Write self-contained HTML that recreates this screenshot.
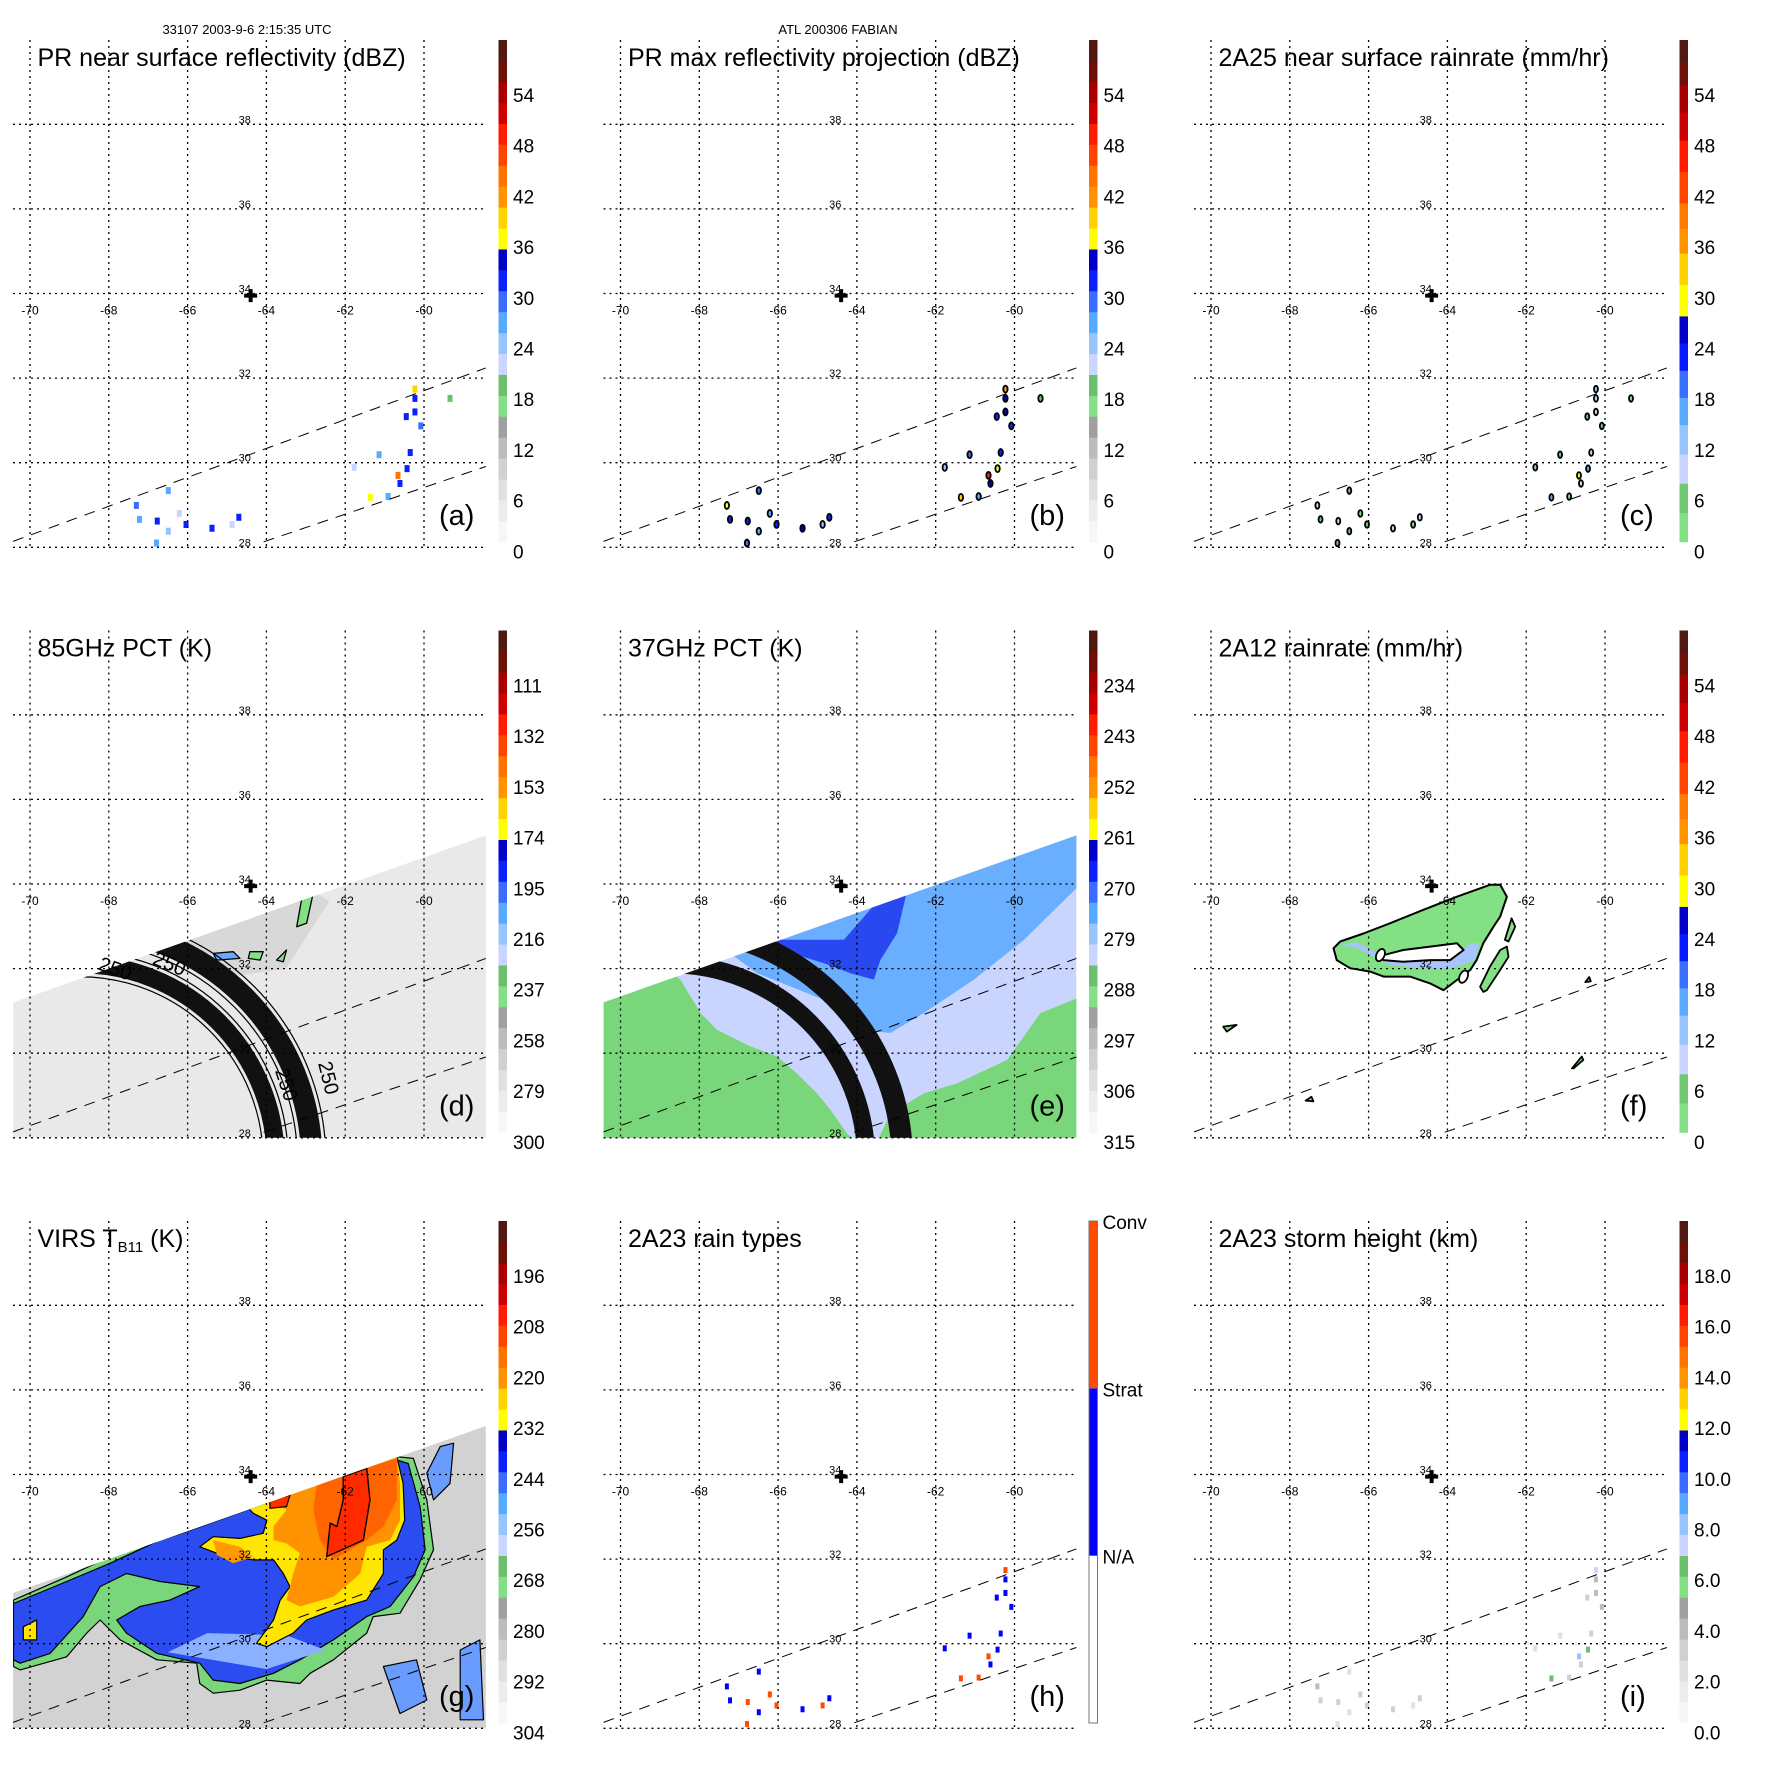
<!DOCTYPE html>
<html><head><meta charset="utf-8"><title>TRMM FABIAN overpass</title>
<style>
html,body{margin:0;padding:0;background:#fff;}
svg{display:block;font-family:"Liberation Sans",Arial,sans-serif;}
</style></head>
<body>
<svg id="fig" width="1771" height="1771" viewBox="0 0 1771 1771" xmlns="http://www.w3.org/2000/svg">
<rect x="0" y="0" width="1771" height="1771" fill="#fff"/>
<text x="247" y="34" font-size="13" text-anchor="middle">33107 2003-9-6 2:15:35 UTC</text>
<text x="838" y="34" font-size="13" text-anchor="middle">ATL 200306 FABIAN</text>
</svg>
<script>
// ---------- data ----------
const gridLons = [-70,-68,-66,-64,-62,-60];
const gridLats = [38,36,34,32,30,28];
const lonLabels = ["-70","-68","-66","-64","-62","-60"];
const latLabels = ["38","36","34","32","30","28"];

// PR pixel clusters (lon/lat)
const pixLon = [-60.23,-60.23,-60.23,-60.45,-60.08,-59.34,-60.35,-60.43,-60.66,-60.61,-61.36,-61.14,-60.91,-61.77,-67.30,-67.22,-66.77,-66.49,-66.49,-66.21,-66.04,-65.38,-64.87,-64.70,-66.79];
const pixLat = [31.74,31.52,31.20,31.09,30.87,31.52,30.24,29.86,29.70,29.51,29.18,30.19,29.20,29.89,28.99,28.66,28.62,29.34,28.38,28.80,28.54,28.45,28.54,28.71,28.10];
const reflNear = [38,30,32,31,28,18,30,32,44,30,36,26,25,22,28,27,30,26,24,22,30,30,22,30,26];
const reflMax  = [40,33,34,32,30,18,32,36,48,34,38,28,27,24,36,30,32,28,26,25,32,33,24,32,28];
const rain2A25 = [12,8,10,6,4,2,8,14,30,10,16,4,3,2,8,6,8,5,4,3,6,8,3,8,5];
const rainType = [2,1,1,1,1,0,1,1,2,1,2,1,2,1,1,1,2,1,1,2,2,1,2,1,2];
const stormHeight = [7,4,4,3,4,0,3,6,8,3,6,2,3,2,4,3,3,2,2,3,3,3,2,3,2];

// swath geometry (lon/lat)
const swathPoly = [[-70.43,31.2],[-58.43,35.15],[-58.43,28.0],[-70.43,28.0]];
const swathEdge1 = [[-70.43,28.14],[-58.43,32.24]];
const swathEdge2 = [[-64.07,28.13],[-58.43,29.91]];
const stormCenter = [-64.4,33.95];
const ringCenter = [-68.74,27.47];
const ringLabelsText = ["250","250","250","250"];

// 85 GHz features
const d_green = [
 [[-63.06,34.09],[-62.72,34.21],[-62.85,33.62],[-62.98,33.07],[-63.23,32.99],[-63.11,33.62]],
 [[-65.35,32.36],[-64.84,32.40],[-64.67,32.24],[-65.26,32.20]],
 [[-64.42,32.40],[-64.08,32.40],[-64.16,32.20],[-64.46,32.24]],
 [[-63.74,32.20],[-63.49,32.44],[-63.57,32.16]]
];
const d_dark = [[-66.5,32.6],[-63.2,34.0],[-62.4,33.6],[-63.5,32.0],[-65,31.8]];

// 37 GHz features
const e_greenLL = [[-68.73,31.93],[-68.48,31.74],[-68.22,31.34],[-67.97,30.95],[-67.55,30.55],[-66.70,30.16],[-66.02,29.92],[-65.52,29.52],[-65.01,29.05],[-64.67,28.66],[-64.25,28.10],[-63.99,27.9],[-70.6,27.9],[-70.6,31.26]];
const e_greenBR = [[-63.49,27.9],[-63.15,28.58],[-62.30,29.05],[-61.455,29.29],[-60.19,29.84],[-59.34,30.95],[-58.3,31.34],[-58.3,27.9]];
const e_blue = [[-66.70,32.60],[-58.3,35.3],[-58.3,34.02],[-59.76,32.68],[-61.03,31.74],[-62.30,30.95],[-63.15,30.48],[-63.99,30.55],[-64.84,31.26],[-65.69,31.58],[-66.53,31.89],[-67.12,32.29]];
const e_dark = [[-66.53,32.68],[-64.33,32.68],[-63.15,33.94],[-62.72,33.86],[-62.98,32.84],[-63.40,32.21],[-63.57,31.74],[-64.16,31.89],[-64.84,32.13],[-65.69,32.37]];

// 2A12 features
const f_main = [[-62.66,33.98],[-62.49,33.70],[-62.66,33.23],[-62.83,32.99],[-63.09,32.60],[-63.26,32.20],[-63.42,31.97],[-63.76,31.73],[-64.10,31.49],[-64.44,31.65],[-64.95,31.81],[-65.62,31.81],[-65.96,31.93],[-66.47,32.01],[-66.81,32.20],[-66.89,32.48],[-66.72,32.64],[-66.13,32.83],[-65.46,33.07],[-64.61,33.39],[-63.76,33.70],[-62.92,33.98]];
const f_hole = [[-65.79,32.28],[-65.12,32.44],[-63.76,32.60],[-63.59,32.44],[-63.93,32.20],[-64.44,32.20],[-65.12,32.16],[-65.62,32.20]];
const f_blue = [[-66.72,32.56],[-66.3,32.5],[-65.5,32.1],[-64.6,32.0],[-63.9,32.0],[-63.3,32.2],[-63.2,32.6],[-63.4,32.6],[-63.9,32.25],[-64.6,32.15],[-65.5,32.25],[-66.3,32.62]];
const f_small = [
 [[-63.09,31.45],[-63.17,31.57],[-62.92,32.05],[-62.66,32.44],[-62.49,32.52],[-62.45,32.28],[-62.66,31.97],[-63.0,31.49]],
 [[-62.54,32.68],[-62.37,33.19],[-62.28,32.99],[-62.45,32.64]],
 [[-69.69,30.63],[-69.35,30.67],[-69.60,30.51]],
 [[-67.60,28.88],[-67.45,28.97],[-67.40,28.86]],
 [[-60.84,29.64],[-60.59,29.92],[-60.55,29.84],[-60.80,29.64]],
 [[-60.50,31.68],[-60.40,31.80],[-60.36,31.70]]
];
const f_ovals = [[-65.70,32.32],[-63.59,31.81]];

// VIRS features
const g_green = [[-70.42,31.03],[-69.07,31.58],[-67.97,32.06],[-66.70,32.53],[-66.02,32.73],[-64.50,33.24],[-60.69,34.42],[-60.27,34.38],[-59.93,33.40],[-59.76,32.22],[-60.10,31.51],[-60.61,30.72],[-61.29,30.64],[-61.455,30.25],[-62.30,29.62],[-62.89,29.30],[-63.15,29.06],[-63.99,29.14],[-64.67,28.90],[-65.35,28.83],[-65.69,29.06],[-65.77,29.54],[-66.78,29.62],[-67.71,30.09],[-68.22,30.56],[-68.56,30.25],[-69.07,29.69],[-70.25,29.38],[-70.42,29.46]];
const g_blue = [[-70.42,30.95],[-69.07,31.47],[-67.97,31.90],[-66.70,32.45],[-66.02,32.65],[-64.50,33.16],[-60.69,34.34],[-60.40,34.26],[-60.10,33.24],[-59.97,32.22],[-60.27,31.58],[-60.86,30.88],[-61.455,30.64],[-62.30,30.09],[-63.15,29.62],[-63.82,29.30],[-64.67,29.06],[-65.35,29.14],[-65.69,29.54],[-66.78,29.77],[-67.55,30.25],[-67.80,30.56],[-67.21,30.88],[-66.45,31.03],[-65.69,31.35],[-66.70,31.47],[-67.55,31.66],[-68.22,31.35],[-68.65,30.64],[-69.49,29.77],[-70.25,29.54],[-70.42,29.62]];
const g_lightBlue = [[-66.5,29.8],[-64,29.4],[-62.5,29.85],[-63.5,30.2],[-65.5,30.25]];
const g_yellow = [[-64.50,33.24],[-60.69,34.42],[-60.53,33.79],[-60.49,32.92],[-60.69,32.45],[-61.03,32.22],[-61.03,31.66],[-61.455,31.03],[-62.30,30.80],[-62.98,30.56],[-63.32,30.25],[-63.99,29.93],[-64.25,30.01],[-63.82,30.56],[-63.65,31.03],[-63.40,31.35],[-63.57,31.66],[-63.82,31.98],[-64.33,31.98],[-64.84,32.06],[-65.26,32.14],[-65.69,32.29],[-65.35,32.53],[-64.67,32.49],[-64.08,32.61],[-63.99,32.92],[-64.33,33.08]];
const g_orange = [[-63.99,33.48],[-60.69,34.42],[-60.61,33.79],[-60.61,32.92],[-60.86,32.45],[-61.455,32.29],[-61.62,31.66],[-62.30,31.11],[-63.15,30.88],[-63.49,31.03],[-63.32,31.66],[-63.15,32.14],[-63.49,32.37],[-63.82,32.45],[-63.82,32.77],[-63.49,33.16]];
const g_orangeArm = [[-65.35,32.45],[-64.67,32.29],[-64.33,32.06],[-64.84,31.90],[-65.26,32.10]];
const g_redOrange = [[-62.72,33.79],[-60.69,34.38],[-60.69,33.40],[-61.03,32.77],[-61.455,32.45],[-62.30,31.98],[-62.64,32.45],[-62.81,33.16]];
const g_red = [[-62.05,33.95],[-61.455,34.15],[-61.37,33.40],[-61.54,32.45],[-62.47,32.06],[-62.38,32.85],[-62.21,32.77],[-62.05,33.40]];
const g_redSmall = [[-63.91,33.40],[-63.40,33.51],[-63.49,33.24],[-63.91,33.20]];
const g_yellowSmall = [[-70.17,30.40],[-69.83,30.56],[-69.83,30.09],[-70.17,30.09]];
const g_streaks = [
 [[-59.59,34.66],[-59.25,34.74],[-59.34,33.79],[-59.76,33.40],[-59.93,34.03]],
 [[-61.03,29.46],[-60.19,29.62],[-59.93,28.67],[-60.61,28.35]],
 [[-59.08,29.85],[-58.58,30.09],[-58.49,28.2],[-59.08,28.2]]
];

// colour scales
const segStd = [[0,15,['#f7f7f7','#ececec','#e0e0e0','#d0d0d0','#bcbcbc','#a0a0a0']],[15,20,['#84e084','#6cc06c']],[20,25,['#cad6ff','#96c4ff']],[25,30,['#56aaff','#3a6cff']],[30,35,['#0a20ff','#0000c8']],[35,40,['#ffff00','#ffd200']],[40,45,['#ff9400','#ff7400']],[45,50,['#ff4400','#ff1c00']],[50,55,['#cc0000','#a80000']],[55,60,['#6e1008','#501a12']]];
const segRain = [[0,7,['#84e084','#70c870']],[7,14,['#cad6ff','#96c4ff']],[14,20.5,['#5aaaff','#3a70ff']],[20.5,27,['#0818ff','#0000c8']],[27,34.5,['#ffff00','#ffd200']],[34.5,40.5,['#ff9400','#ff7a00']],[40.5,48,['#ff4400','#ff1c00']],[48,54.7,['#cc0000','#a80000']],[54.7,60,['#6e1008','#501a12']]];
const ticksDBZ = ["54","48","42","36","30","24","18","12","6","0"];
const ticks85 = ["111","132","153","174","195","216","237","258","279","300"];
const ticks37 = ["234","243","252","261","270","279","288","297","306","315"];
const ticksVIRS = ["196","208","220","232","244","256","268","280","292","304"];
const ticksHeight = ["18.0","16.0","14.0","12.0","10.0","8.0","6.0","4.0","2.0","0.0"];
const typeLabels = ["Conv","Strat","N/A"];

// ---------- drawing ----------
const NS = 'http://www.w3.org/2000/svg';
const svg = document.getElementById('fig');
const defs = document.createElementNS(NS,'defs');
svg.appendChild(defs);
function mk(tag, attrs, parent){
  const e = document.createElementNS(NS, tag);
  for (const k in attrs) e.setAttribute(k, attrs[k]);
  (parent||svg).appendChild(e);
  return e;
}
const cols=[0,590.5,1181], rows=[0,590.5,1181];
function X(o,lon){return o+30+(lon+70)*39.4;}
function Y(o,lat){return o+293.5-(lat-34)*42.3;}
function pts(ox,oy,arr){return arr.map(p=>X(ox,p[0]).toFixed(1)+','+Y(oy,p[1]).toFixed(1)).join(' ');}
function colorAt(segs,v){
  for(const s of segs){ if(v>=s[0] && v<s[1]){ const n=s[2].length; const i=Math.min(n-1,Math.floor((v-s[0])/(s[1]-s[0])*n)); return s[2][i]; } }
  return segs[segs.length-1][2][segs[segs.length-1][2].length-1];
}

function panel(idx, key, title, letter, ticks, segs){
  const ox=cols[idx%3], oy=rows[Math.floor(idx/3)];
  const g = mk('g',{});
  
  
  const clipId='clip-'+key;
  const cp = mk('clipPath',{id:clipId},defs);
  mk('polygon',{points:pts(ox,oy,swathPoly)},cp);
  const field = mk('g',{'clip-path':'url(#'+clipId+')'},g);
  
  
  return {ox,oy,g,field,title,letter,ticks,segs,key};
}

function poly(parent, ox, oy, arr, fill, stroke, sw, name){
  const p = mk('polygon',{points:pts(ox,oy,arr),fill:fill,stroke:stroke||'none','stroke-width':sw||0,'stroke-linejoin':'round'},parent);
  
  
  return p;
}

function rings(P, withLines){
  const cx=X(P.ox,ringCenter[0]), cy=Y(P.oy,ringCenter[1]);
  const bands=[[196,18],[232,21.5]];
  bands.forEach((b,i)=>{
    const c = mk('circle',{cx:cx,cy:cy,r:b[0],fill:'none',stroke:'#111','stroke-width':b[1]},P.field);
    
    
    if(withLines){
      [b[0]-b[1]/2-3.5, b[0]+b[1]/2+3.5].forEach(r=>{
        const l = mk('circle',{cx:cx,cy:cy,r:r,fill:'none',stroke:'#000','stroke-width':1.2},P.field);
        
        
      });
    }
  });
}

function frame(P){
  const {ox,oy,g}=P;
  gridLons.forEach(lon=>{
    const l = mk('line',{x1:X(ox,lon),x2:X(ox,lon),y1:oy+40,y2:oy+548,stroke:'#000','stroke-width':1.3,'stroke-dasharray':'2 4'},g);
    
    
  });
  gridLats.forEach(lat=>{
    const l = mk('line',{x1:ox+13,x2:ox+487,y1:Y(oy,lat),y2:Y(oy,lat),stroke:'#000','stroke-width':1.3,'stroke-dasharray':'2 4'},g);
    
    
  });
  [swathEdge1,swathEdge2].forEach(e=>{
    const l = mk('line',{x1:X(ox,e[0][0]),y1:Y(oy,e[0][1]),x2:X(ox,e[1][0]),y2:Y(oy,e[1][1]),stroke:'#000','stroke-width':1,'stroke-dasharray':'11 8'},g);
    
    
  });
  gridLons.forEach((lon,i)=>{
    const t = mk('text',{x:X(ox,lon),y:Y(oy,34)+21,'font-size':12,'text-anchor':'middle'},g);
    t.textContent = lonLabels[i];
    
    
  });
  gridLats.forEach((lat,i)=>{
    const t = mk('text',{x:X(ox,-64.55),y:Y(oy,lat)-1,'font-size':11,'text-anchor':'middle'},g);
    t.textContent = latLabels[i];
    
    
  });
  const sx=X(ox,stormCenter[0]), sy=Y(oy,stormCenter[1]);
  const m = mk('path',{d:`M${sx-6.5},${sy} H${sx+6.5} M${sx},${sy-6.5} V${sy+6.5}`,stroke:'#000','stroke-width':4},g);
  
  
  const t = mk('text',{x:ox+37.5,y:oy+66,'font-size':25},g);
  
  
  if(P.key==='g'){
    t.appendChild(document.createTextNode('VIRS T'));
    const s=mk('tspan',{'font-size':15,dy:5},t); s.textContent='B11';
    const s2=mk('tspan',{dy:-5},t); s2.textContent=' (K)';
  } else t.textContent = P.title;
  const lt = mk('text',{x:ox+439,y:oy+525,'font-size':29},g);
  lt.textContent = '('+P.letter+')';
  
  
  const cb = mk('g',{},g);
  
  
  const bx=ox+498.5, bw=8.5, by0=oy+542, bh=502;
  if(P.key==='h'){
    const segs=[[0,1,'#ffffff'],[1,2,'#0000ff'],[2,3,'#ff4a00']];
    segs.forEach(s=>{
      const r=mk('rect',{x:bx,y:by0-s[1]/3*bh,width:bw,height:(s[1]-s[0])/3*bh,fill:s[2]},cb);
      
      
    });
    const o=mk('rect',{x:bx,y:by0-bh,width:bw,height:bh,fill:'none',stroke:'#777','stroke-width':1},cb);
    
    
    typeLabels.forEach((lab,i)=>{
      const ty = by0-bh + i*bh/3 + 8;
      const tx=mk('text',{x:ox+512,y:ty,'font-size':19},cb);
      tx.textContent=lab;
      
      
    });
  } else {
    P.segs.forEach(s=>{
      const n=s[2].length;
      s[2].forEach((c,j)=>{
        const v0=s[0]+(s[1]-s[0])*j/n, v1=s[0]+(s[1]-s[0])*(j+1)/n;
        const y1=by0-v1/60*bh, y0=by0-v0/60*bh;
        const r=mk('rect',{x:bx,y:y1,width:bw,height:y0-y1+0.3,fill:c},cb);
        
        
      });
    });
    P.ticks.forEach((lab,i)=>{
      const tx=mk('text',{x:ox+513,y:oy+95+i*50.7+7,'font-size':19},cb);
      tx.textContent=lab;
      
      
    });
  }
}

const A = panel(0,'a','PR near surface reflectivity (dBZ)','a',ticksDBZ,segStd);
const B = panel(1,'b','PR max reflectivity projection (dBZ)','b',ticksDBZ,segStd);
const C = panel(2,'c','2A25 near surface rainrate (mm/hr)','c',ticksDBZ,segRain);
const D = panel(3,'d','85GHz PCT (K)','d',ticks85,segStd);
const E = panel(4,'e','37GHz PCT (K)','e',ticks37,segStd);
const F = panel(5,'f','2A12 rainrate (mm/hr)','f',ticksDBZ,segRain);
const G = panel(6,'g','VIRS TB11 (K)','g',ticksVIRS,segStd);
const H = panel(7,'h','2A23 rain types','h',[],segStd);
const I = panel(8,'i','2A23 storm height (km)','i',ticksHeight,segStd);

pixLon.forEach((lon,i)=>{
  const r=mk('rect',{x:X(A.ox,lon)-2.5,y:Y(A.oy,pixLat[i])-3.5,width:5,height:7,fill:colorAt(segStd,reflNear[i])},A.g);
  
  
});
pixLon.forEach((lon,i)=>{
  const e=mk('ellipse',{cx:X(B.ox,lon),cy:Y(B.oy,pixLat[i]),rx:2.2,ry:3.5,fill:colorAt(segStd,reflMax[i]),stroke:'#000','stroke-width':1.8},B.g);
  
  
});
pixLon.forEach((lon,i)=>{
  const e=mk('ellipse',{cx:X(C.ox,lon),cy:Y(C.oy,pixLat[i]),rx:2,ry:3.3,fill:colorAt(segRain,rain2A25[i]),stroke:'#000','stroke-width':1.8},C.g);
  
  
});
poly(D.field,D.ox,D.oy,swathPoly,'#e9e9e9',null,0,'tmi-swath');
poly(D.field,D.ox,D.oy,d_dark,'#d8d8d8',null,0,'cold-region');
d_green.forEach((p,i)=>poly(D.field,D.ox,D.oy,p,i===1?'#6aa8ff':'#84e084','#000',1.3,'ice-scattering-cell'));
rings(D,true);
[[113,384.5,20],[167,379.5,22],[280,496,72],[322,489,76]].forEach((q,i)=>{
  const t=mk('text',{x:D.ox+q[0],y:D.oy+q[1],'font-size':20,'text-anchor':'middle',transform:`rotate(${q[2]} ${D.ox+q[0]} ${D.oy+q[1]})`},D.g);
  t.textContent=ringLabelsText[i];
  
  
});
poly(E.field,E.ox,E.oy,swathPoly,'#c9d5ff',null,0,'tmi-swath');
poly(E.field,E.ox,E.oy,e_greenLL,'#7ad67a',null,0,'warm-region');
poly(E.field,E.ox,E.oy,e_greenBR,'#7ad67a',null,0,'warm-region');
poly(E.field,E.ox,E.oy,e_blue,'#6aaeff',null,0,'rain-region');
poly(E.field,E.ox,E.oy,e_dark,'#2a48f0',null,0,'heavy-rain-region');
rings(E,false);
poly(F.g,F.ox,F.oy,f_main,'#84e084','#000',2,'rain-area');
poly(F.g,F.ox,F.oy,f_blue,'#a8c4ff',null,0,'moderate-rain');
poly(F.g,F.ox,F.oy,f_hole,'#ffffff','#000',2,'rain-gap');
f_small.forEach(p=>poly(F.g,F.ox,F.oy,p,'#84e084','#000',1.8,'rain-cell'));
f_ovals.forEach(o=>{
  const e=mk('ellipse',{cx:X(F.ox,o[0]),cy:Y(F.oy,o[1]),rx:4,ry:6.5,fill:'#fff',stroke:'#000','stroke-width':1.8,transform:`rotate(25 ${X(F.ox,o[0])} ${Y(F.oy,o[1])})`},F.g);
  
  
});
poly(G.field,G.ox,G.oy,swathPoly,'#d2d2d2',null,0,'virs-swath');
poly(G.field,G.ox,G.oy,g_green,'#7ad67a','#000',1.2,'cloud-268K');
poly(G.field,G.ox,G.oy,g_blue,'#2a4cf0','#000',1.2,'cloud-244K');
poly(G.field,G.ox,G.oy,g_lightBlue,'#8ab0ff',null,0,'cloud-256K');
g_streaks.forEach(p=>poly(G.field,G.ox,G.oy,p,'#6a9cff','#000',1.2,'cloud-band'));
poly(G.field,G.ox,G.oy,g_yellow,'#ffe600','#000',1.2,'cloud-232K');
poly(G.field,G.ox,G.oy,g_orangeArm,'#ff9a00',null,0,'cloud-220K');
poly(G.field,G.ox,G.oy,g_orange,'#ff9200',null,0,'cloud-220K');
poly(G.field,G.ox,G.oy,g_redOrange,'#ff6400',null,0,'cloud-210K');
poly(G.field,G.ox,G.oy,g_red,'#ff2a00','#000',1.4,'cloud-208K');
poly(G.field,G.ox,G.oy,g_redSmall,'#ff3000','#000',1.2,'cloud-208K');
poly(G.field,G.ox,G.oy,g_yellowSmall,'#ffe600','#000',1.2,'cloud-232K');
pixLon.forEach((lon,i)=>{
  if(rainType[i]===0) return;
  const r=mk('rect',{x:X(H.ox,lon)-2,y:Y(H.oy,pixLat[i])-3,width:4,height:6,fill:rainType[i]===2?'#ff4a00':'#0000ff'},H.g);
  
  
});
pixLon.forEach((lon,i)=>{
  if(stormHeight[i]===0) return;
  const r=mk('rect',{x:X(I.ox,lon)-2,y:Y(I.oy,pixLat[i])-3,width:4,height:6,fill:colorAt(segStd,stormHeight[i]*3)},I.g);
  
  
});

[A,B,C,D,E,F,G,H,I].forEach(frame);
</script>
</body></html>
